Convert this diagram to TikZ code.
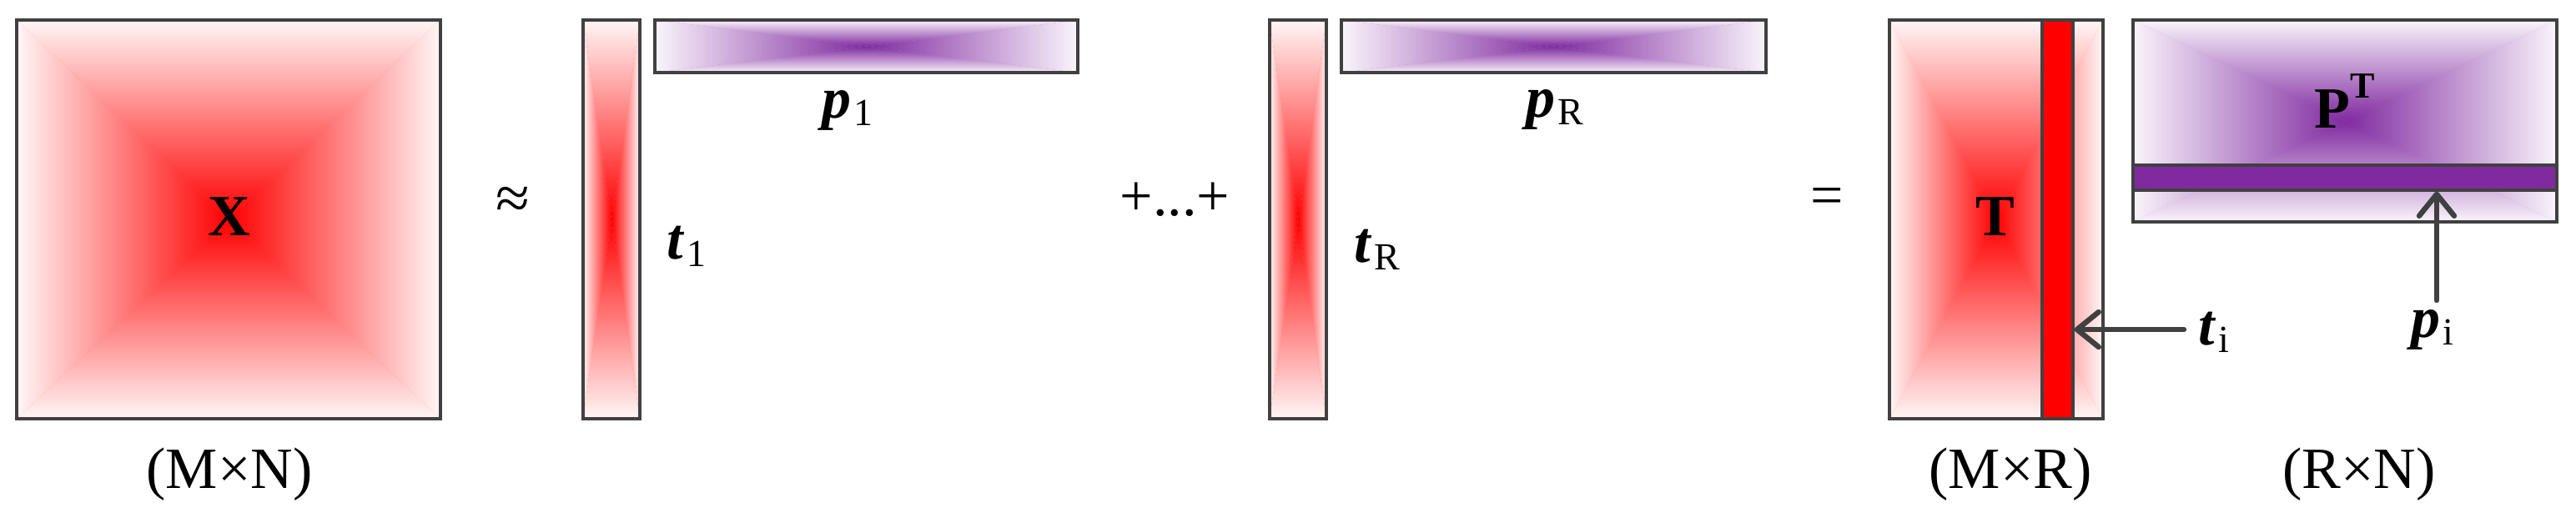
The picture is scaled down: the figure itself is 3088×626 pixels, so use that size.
\documentclass[tikz,border=0pt]{standalone}
\usepackage{fontspec}
\setmainfont{Liberation Serif}
\usetikzlibrary{arrows.meta,fit,calc}
\definecolor{redEdge}{RGB}{255,246,246}
\definecolor{redCenter}{RGB}{255,0,0}
\definecolor{purpEdge}{RGB}{249,244,251}
\definecolor{purpCenter}{RGB}{128,42,160}
\definecolor{lineGray}{RGB}{64,64,64}
\newcommand\gradbox[7]{%
  \coordinate (#1-nw) at (#2,#3);
  \coordinate (#1-se) at (#4,#5);
  \coordinate (#1-c) at ({(#2+#4)/2},{(#3+#5)/2});
  \fill[#6!50!#7] (#2,#3) rectangle (#4,#5);
  \shade[top color=#6,bottom color=#7] (#2,#3) -- (#4,#3) -- (#1-c) -- cycle;
  \shade[top color=#7,bottom color=#6] (#2,#5) -- (#4,#5) -- (#1-c) -- cycle;
  \shade[left color=#6,right color=#7] (#2,#3) -- (#2,#5) -- (#1-c) -- cycle;
  \shade[left color=#7,right color=#6] (#4,#3) -- (#4,#5) -- (#1-c) -- cycle;
  \node[mbox, fit=(#1-nw)(#1-se)] (#1) {};
}
\newcommand\bvec[2]{\textbf{\textit{#1}}\kern0.6pt\raisebox{-2.3pt}{\fontsize{11.5}{11.5}\selectfont #2}}
\tikzset{
  mbox/.style={draw=lineGray, line width=0.8pt, inner sep=0pt},
  lab/.style={inner sep=0pt, font=\fontsize{17.5}{19}\selectfont},
  ptr/.style={draw=lineGray, line width=1.6pt, line cap=round,
    -{Straight Barb[length=6.5pt,width=10.5pt,line cap=round,line join=round]}},
}
\begin{document}
\begin{tikzpicture}[x=0.25pt,y=-0.25pt]
\useasboundingbox (0,0) rectangle (3088,626);
% X
\gradbox{X}{20}{24}{528}{502}{redEdge}{redCenter}
\node[lab, anchor=base] (Xl) at (275,282) {\textbf{X}};
\node[lab, anchor=base] (MN) at (275,585) {(M×N)};
\node[lab, anchor=base, font=\fontsize{18.5}{20}\selectfont] (approx) at (615,262) {≈};
% first rank-one term
\gradbox{t1}{699}{24}{767}{502}{redEdge}{redCenter}
\gradbox{p1}{785}{24}{1292}{87}{purpEdge}{purpCenter}
\node[lab, anchor=base west] (p1l) at (985,141) {\bvec{p}{1}};
\node[lab, anchor=base west] (t1l) at (799,310) {\bvec{t}{1}};
\node[lab, anchor=base west] (dots) at (1342,258) {+...+};
% R-th term
\gradbox{tR}{1522}{24}{1590}{502}{redEdge}{redCenter}
\gradbox{pR}{1608}{24}{2117}{87}{purpEdge}{purpCenter}
\node[lab, anchor=base west] (pRl) at (1829,140) {\bvec{p}{R}};
\node[lab, anchor=base west] (tRl) at (1623,314) {\bvec{t}{R}};
\node[lab, anchor=base] (eq) at (2190,257) {=};
% T
\gradbox{T}{2265}{24}{2521}{502}{redEdge}{redCenter}
\coordinate (tc-nw) at (2448,24);
\coordinate (tc-se) at (2485,502);
\node[mbox, fill=redCenter, fit=(tc-nw)(tc-se)] (tcol) {};
\node[lab, anchor=base] (Tl) at (2392,282) {\textbf{T}};
\node[lab, anchor=base] (MR) at (2410,585) {(M×R)};
% P^T
\gradbox{P}{2557}{24}{3065}{266}{purpEdge}{purpCenter}
\coordinate (band-nw) at (2557,198);
\coordinate (band-se) at (3065,228);
\node[mbox, fill=purpCenter, fit=(band-nw)(band-se)] (band) {};
\node[lab, anchor=base west] (Pl) at (2774,153) {\textbf{P}\raisebox{9pt}{\fontsize{11}{11}\selectfont\bfseries T}};
\node[lab, anchor=base] (RN) at (2828,585) {(R×N)};
% pointers
\coordinate (ti-start) at (2618,395);
\coordinate (pi-start) at (2921,360);
\draw[ptr] (ti-start) -- (tcol.east |- ti-start);
\draw[ptr] (pi-start) -- (band.south -| pi-start);
\node[lab, anchor=base west] (til) at (2635,413) {\bvec{t}{i}};
\node[lab, anchor=base west] (pil) at (2890,404) {\bvec{p}{i}};
\end{tikzpicture}
\end{document}
